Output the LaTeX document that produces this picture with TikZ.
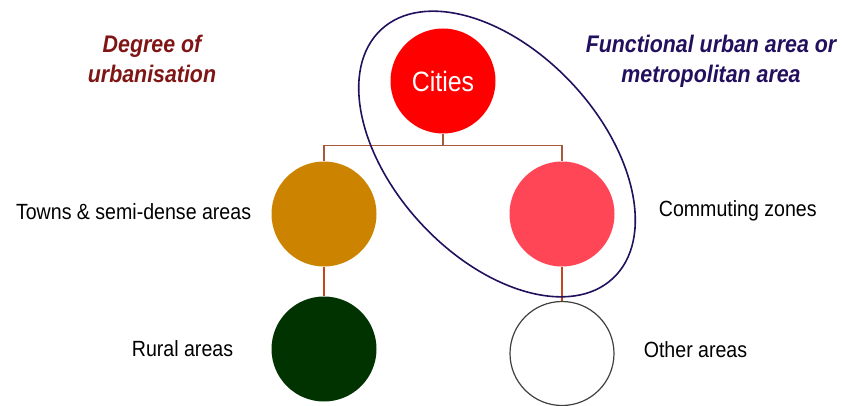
\documentclass[tikz,border=0pt]{standalone}
\usepackage{fontspec}
\setmainfont{Liberation Sans}
\newfontfamily\narrowsans[FakeStretch=0.89]{Liberation Sans}
\usetikzlibrary{positioning,trees}
\definecolor{cityred}{HTML}{FF0000}
\definecolor{towngold}{HTML}{CC8400}
\definecolor{commutepink}{HTML}{FF4656}
\definecolor{ruralgreen}{HTML}{003300}
\definecolor{othergrey}{HTML}{404040}
\definecolor{metroviolet}{HTML}{22105E}
\definecolor{degreered}{HTML}{7F1515}
\definecolor{forkbrown}{HTML}{A8583C}
\definecolor{stemred}{HTML}{C4451F}
\tikzset{
  area/.style={circle, minimum size=105pt, inner sep=0pt},
  lbl/.style={inner sep=0pt, font=\narrowsans\fontsize{22}{26}\selectfont},
  heading/.style={inner sep=0pt, align=center, font=\narrowsans\fontsize{24}{30}\selectfont\bfseries\itshape}
}
\begin{document}
\begin{tikzpicture}[level 1/.style={sibling distance=238pt, level distance=133pt,
    edge from parent path={(\tikzparentnode.south) -- +(0,-11.5pt) -| (\tikzchildnode.north)},
    edge from parent/.style={draw=forkbrown, line width=1.2pt}},
  level 2/.style={level distance=135pt,
    edge from parent path={(\tikzparentnode.south) -- (\tikzchildnode.north)},
    edge from parent/.style={draw=stemred, line width=1.2pt}}]
\useasboundingbox (0,0) rectangle (842pt,-406pt);
\node[area, fill=cityred, text=white, font=\narrowsans\fontsize{28}{32}\selectfont] (cities) at (443pt,-81pt) {Cities}
    child {node[area, fill=towngold] (towns) {}
        child {node[area, fill=ruralgreen] (rural) {}}}
    child {node[area, fill=commutepink] (commuting) {}
        child[level distance=139.5pt] {node[area, fill=white, draw=othergrey, line width=1.2pt, minimum size=104pt] (other) {}}};
% functional urban area
\draw[metroviolet, line width=1.6pt, rotate around={-47:(497pt,-154pt)}] (497pt,-154pt) ellipse (170pt and 103pt);
\node[lbl, left=20pt of towns, yshift=2pt] (townslbl) {Towns \& semi-dense areas};
\node[lbl, left=38pt of rural] (rurallbl) {Rural areas};
\node[lbl, right=44pt of commuting, yshift=3pt] (commutelbl) {Commuting zones};
\node[lbl, right=29pt of other, yshift=4pt] (otherlbl) {Other areas};
\node[heading, text=degreered] (degree) at (152pt,-59pt) {Degree of\\urbanisation};
\node[heading, text=metroviolet] (metro) at (711pt,-61pt) {Functional urban area or\\metropolitan area};
\end{tikzpicture}
\end{document}
